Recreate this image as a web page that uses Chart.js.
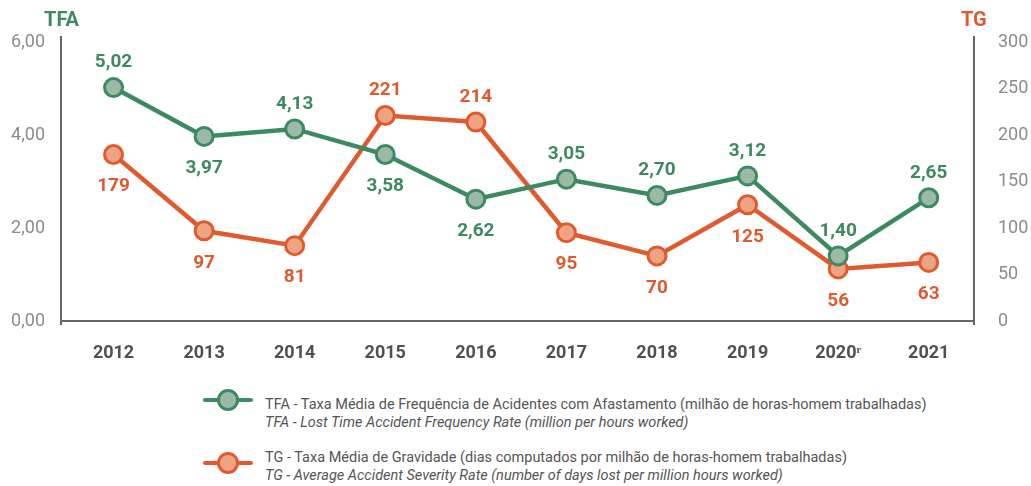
<!DOCTYPE html>
<html>
<head>
<meta charset="utf-8">
<script src="https://cdn.jsdelivr.net/npm/chart.js@4/dist/chart.umd.min.js"></script>
<style>
  html, body { margin: 0; padding: 0; background: #fff; }
  body { width: 1031px; height: 486px; position: relative; overflow: hidden; font-family: Roboto, sans-serif; }
  #wrap { position: absolute; left: 0; top: 0; width: 1031px; height: 375px; }
  .axtitle { position: absolute; top: 7px; font-weight: 700; font-size: 20px; line-height: 24px; }
  #tfaTitle { left: 44px; color: #3e8a5f; }
  #tgTitle { left: 961px; color: #e05a2d; }
  .sym { position: absolute; left: 203px; width: 50px; height: 22px; }
  .sym .ln { position: absolute; left: 0; top: 9px; width: 50px; height: 4px; border-radius: 2px; }
  .sym .dot { position: absolute; left: 14px; top: 0; width: 16px; height: 16px; border-radius: 50%; border: 3px solid; }
  .txt { position: absolute; left: 265px; font-size: 14.5px; line-height: 18px; color: #555; white-space: nowrap; }
  .txt i { display: block; }
</style>
</head>
<body>
<div id="wrap"><canvas id="chart"></canvas></div>
<div class="axtitle" id="tfaTitle">TFA</div>
<div class="axtitle" id="tgTitle">TG</div>

<div class="sym" style="top:389px"><div class="ln" style="background:#3b8a60"></div><div class="dot" style="background:#9cb9a6;border-color:#3b8a60"></div></div>
<div class="txt" style="top:396px">TFA - Taxa Média de Frequência de Acidentes com Afastamento (milhão de horas-homem trabalhadas)<i>TFA - Lost Time Accident Frequency Rate (million per hours worked)</i></div>

<div class="sym" style="top:452px"><div class="ln" style="background:#e05a2d"></div><div class="dot" style="background:#eea383;border-color:#e05a2d"></div></div>
<div class="txt" style="top:449px">TG - Taxa Média de Gravidade (dias computados por milhão de horas-homem trabalhadas)<i>TG - Average Accident Severity Rate (number of days lost per million hours worked)</i></div>

<script>
// anos e rótulos do eixo x
const years = [2012, 2013, 2014, 2015, 2016, 2017, 2018, 2019, 2020, 2021];
const yearLabels = ['2012', '2013', '2014', '2015', '2016', '2017', '2018', '2019', '2020ʳ', '2021'];

// TFA (eixo esquerdo) e TG (eixo direito)
const tfa = [5.02, 3.97, 4.13, 3.58, 2.62, 3.05, 2.70, 3.12, 1.40, 2.65];
const tg = [179, 97, 81, 221, 214, 95, 70, 125, 56, 63];

// posição dos rótulos: 1 = acima, -1 = abaixo
const tfaLabelPos = [1, -1, 1, -1, -1, 1, 1, 1, 1, 1];
const tgLabelPos = [-1, -1, -1, 1, 1, -1, -1, -1, -1, -1];

const leftTicks = [0, 2, 4, 6];
const rightTicks = [0, 50, 100, 150, 200, 250, 300];

const green = '#3b8a60', greenFill = '#9cb9a6', greenText = '#3e8a5f';
const orange = '#e05a2d', orangeFill = '#eea383';
const axisColor = '#666';

const fmtTfa = v => v.toFixed(2).replace('.', ',');

// linhas dos eixos verticais um pouco além da área do gráfico
const axisLines = {
  id: 'axisLines',
  beforeDatasetsDraw(chart) {
    const { ctx, chartArea: a } = chart;
    ctx.save();
    ctx.strokeStyle = axisColor;
    ctx.lineWidth = 2;
    ctx.beginPath();
    ctx.moveTo(a.left, a.top - 6); ctx.lineTo(a.left, a.bottom + 4);
    ctx.moveTo(a.right, a.top - 6); ctx.lineTo(a.right, a.bottom + 4);
    ctx.moveTo(a.left, a.bottom); ctx.lineTo(a.right, a.bottom);
    ctx.stroke();
    ctx.restore();
  }
};

// rótulos de valor desenhados junto aos pontos
const valueLabels = {
  id: 'valueLabels',
  afterDatasetsDraw(chart) {
    const ctx = chart.ctx;
    ctx.save();
    ctx.font = 'bold 19px Roboto, sans-serif';
    ctx.textAlign = 'center';
    ctx.textBaseline = 'middle';
    chart.data.datasets.forEach((ds, di) => {
      const meta = chart.getDatasetMeta(di);
      meta.data.forEach((pt, i) => {
        const up = ds.labelPos[i] > 0;
        ctx.fillStyle = ds.labelColor;
        ctx.fillText(ds.fmt(ds.raw[i]), pt.x, pt.y + (up ? -25 : 32));
      });
    });
    ctx.restore();
  }
};

new Chart(document.getElementById('chart'), {
  type: 'line',
  data: {
    datasets: [
      {
        label: 'TFA',
        data: years.map((y, i) => ({ x: y, y: tfa[i] })),
        raw: tfa, fmt: fmtTfa, labelPos: tfaLabelPos, labelColor: greenText,
        yAxisID: 'y',
        borderColor: green, borderWidth: 4.5,
        pointRadius: 9, pointBorderWidth: 3,
        pointBackgroundColor: greenFill, pointBorderColor: green,
        tension: 0
      },
      {
        label: 'TG',
        data: years.map((y, i) => ({ x: y, y: tg[i] })),
        raw: tg, fmt: v => String(v), labelPos: tgLabelPos, labelColor: orange,
        yAxisID: 'y1',
        borderColor: orange, borderWidth: 4.5,
        pointRadius: 9, pointBorderWidth: 3,
        pointBackgroundColor: orangeFill, pointBorderColor: orange,
        tension: 0
      }
    ]
  },
  options: {
    responsive: true,
    maintainAspectRatio: false,
    animation: false,
    layout: { padding: { top: 42, left: 0, right: 0, bottom: 0 } },
    plugins: { legend: { display: false }, tooltip: { enabled: false } },
    scales: {
      x: {
        type: 'linear',
        min: 2011.42, max: 2021.5,
        afterFit: s => { s.height = 54; },
        grid: { display: false, drawTicks: false },
        border: { display: false },
        afterBuildTicks: s => { s.ticks = years.map(v => ({ value: v })); },
        ticks: {
          autoSkip: false, maxRotation: 0, padding: 22,
          color: '#505050', font: { family: 'Roboto', size: 18, weight: 'bold' },
          callback: v => yearLabels[years.indexOf(v)] ?? ''
        }
      },
      y: {
        position: 'left',
        min: 0, max: 6,
        afterFit: s => { s.width = 61; },
        afterBuildTicks: s => { s.ticks = leftTicks.map(v => ({ value: v })); },
        grid: { display: false, drawTicks: false },
        border: { display: false },
        ticks: {
          padding: 16, color: '#8c8c8c',
          font: { family: 'Roboto', size: 18 },
          callback: v => fmtTfa(v)
        }
      },
      y1: {
        position: 'right',
        min: 0, max: 300,
        afterFit: s => { s.width = 57; },
        afterBuildTicks: s => { s.ticks = rightTicks.map(v => ({ value: v })); },
        grid: { display: false, drawTicks: false },
        border: { display: false },
        ticks: {
          padding: 24, color: '#8c8c8c',
          font: { family: 'Roboto', size: 18 }
        }
      }
    }
  },
  plugins: [axisLines, valueLabels]
});
</script>
</body>
</html>
